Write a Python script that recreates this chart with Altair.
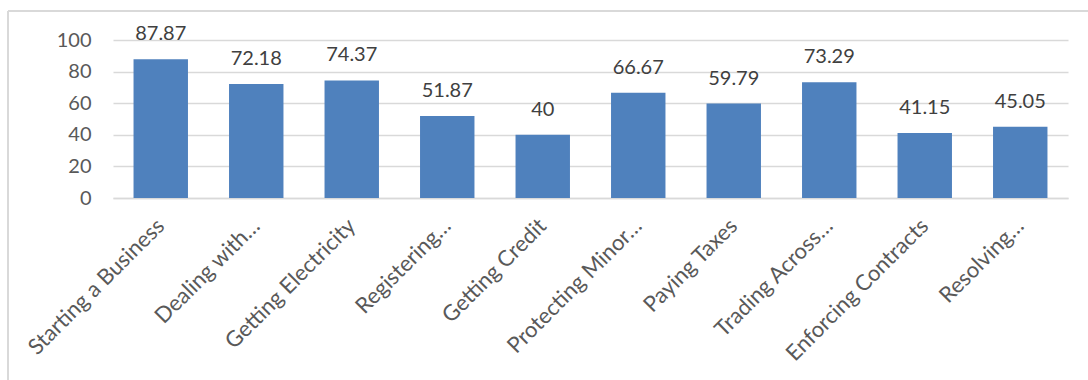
import altair as alt
import pandas as pd

categories = [
    "Starting a Business",
    "Dealing with…",
    "Getting Electricity",
    "Registering…",
    "Getting Credit",
    "Protecting Minor…",
    "Paying Taxes",
    "Trading Across…",
    "Enforcing Contracts",
    "Resolving…",
]
values = [87.87, 72.18, 74.37, 51.87, 40, 66.67, 59.79, 73.29, 41.15, 45.05]
y_ticks = [0, 20, 40, 60, 80, 100]

df = pd.DataFrame({"category": categories, "value": values})

FONT = "Lato"
x_enc = alt.X(
    "category:N",
    sort=categories,
    title=None,
    scale=alt.Scale(paddingInner=0.43, paddingOuter=0.215),
    axis=alt.Axis(
        labelAngle=-45,
        labelAlign="right",
        labelBaseline="middle",
        labelFontSize=22,
        labelFont=FONT,
        labelColor="#595959",
        labelPadding=24,
        labelLimit=400,
        labelOverlap=False,
        ticks=False,
        domain=True,
        domainColor="#d9d9d9",
        domainWidth=1.3,
        grid=False,
    ),
)
y_enc = alt.Y(
    "value:Q",
    title=None,
    scale=alt.Scale(domain=[0, 100], nice=False),
    axis=alt.Axis(
        values=y_ticks,
        labelFontSize=20,
        labelFont=FONT,
        labelColor="#595959",
        labelPadding=22,
        labelOverlap=False,
        labelFlush=False,
        ticks=False,
        domain=False,
        grid=True,
        gridColor="#d9d9d9",
        gridWidth=1.3,
    ),
)

base = alt.Chart(df).encode(x=x_enc, y=y_enc)
bars = base.mark_bar(color="#4f81bd")
labels = base.mark_text(
    font=FONT, fontSize=20, color="#404040", dy=-19, baseline="alphabetic"
).encode(text=alt.Text("value:Q"))

top_border = alt.Chart(df).mark_rule(color="#d9d9d9", strokeWidth=1.3).encode(
    x=alt.value(-105), x2=alt.value(975), y=alt.value(-29)
)
left_border = alt.Chart(df).mark_rule(color="#d9d9d9", strokeWidth=1.3).encode(
    x=alt.value(-105), y=alt.value(-29), y2=alt.value(340)
)

chart = (
    alt.layer(bars, labels, top_border, left_border)
    .properties(
        width=955,
        height=158,
        autosize=alt.AutoSizeParams(type="none"),
        padding={"left": 113, "top": 40, "right": 20, "bottom": 182},
        background="white",
    )
    .configure_view(stroke=None)
)

chart.save("out.html", embed_options={"renderer": "svg", "actions": False})
